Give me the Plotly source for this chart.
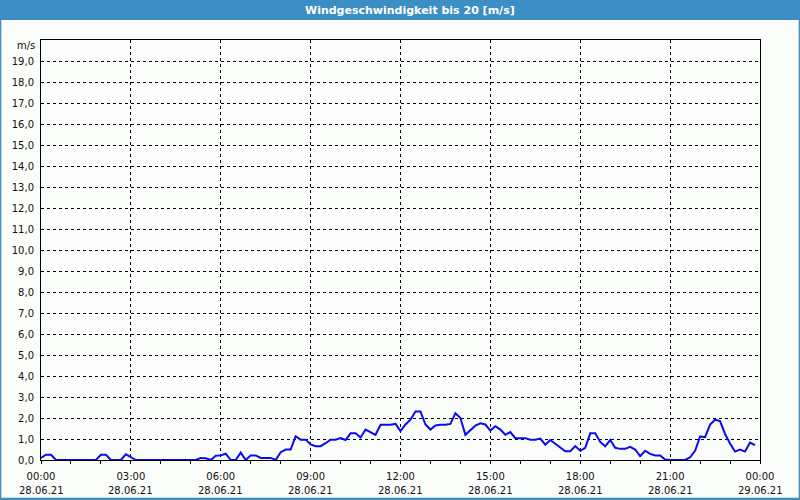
import pandas as pd
import plotly.graph_objects as go

# ---- data ----
speed = [
    0.1, 0.25, 0.25, 0, 0, 0, 0, 0, 0, 0,
    0, 0, 0.25, 0.25, 0, 0, 0, 0.27, 0.12, 0,
    0, 0, 0, 0, 0, 0, 0, 0, 0, 0,
    0, 0, 0.1, 0.08, 0, 0.2, 0.22, 0.3, 0, 0,
    0.35, 0, 0.22, 0.22, 0.1, 0.1, 0.1, 0, 0.37, 0.5,
    0.5, 1.13, 0.97, 0.97, 0.74, 0.66, 0.66, 0.8, 0.97, 0.97,
    1.04, 0.95, 1.27, 1.27, 1.07, 1.45, 1.33, 1.2, 1.68, 1.68,
    1.68, 1.72, 1.38, 1.69, 1.92, 2.31, 2.31, 1.69, 1.45, 1.64,
    1.68, 1.68, 1.72, 2.23, 2.0, 1.2, 1.43, 1.64, 1.75, 1.69,
    1.4, 1.61, 1.45, 1.2, 1.33, 1.04, 1.04, 1.04, 0.97, 0.97,
    1.02, 0.73, 0.95, 0.76, 0.59, 0.42, 0.42, 0.66, 0.44, 0.58,
    1.27, 1.27, 0.86, 0.65, 0.95, 0.58, 0.53, 0.53, 0.63, 0.5,
    0.18, 0.44, 0.29, 0.22, 0.22, 0.02, 0, 0, 0, 0,
    0.13, 0.44, 1.12, 1.09, 1.69, 1.92, 1.85, 1.24, 0.79, 0.4,
    0.5, 0.4, 0.83, 0.71,
]
times = pd.date_range("2021-06-28 00:00", periods=len(speed), freq="10min")

x_tick_vals = ["2021-06-28 00:00", "2021-06-28 03:00", "2021-06-28 06:00",
               "2021-06-28 09:00", "2021-06-28 12:00", "2021-06-28 15:00",
               "2021-06-28 18:00", "2021-06-28 21:00", "2021-06-29 00:00"]
x_tick_times = ["00:00", "03:00", "06:00", "09:00", "12:00", "15:00",
                "18:00", "21:00", "00:00"]
x_tick_dates = ["28.06.21", "28.06.21", "28.06.21", "28.06.21", "28.06.21",
                "28.06.21", "28.06.21", "28.06.21", "29.06.21"]
y_tick_vals = list(range(0, 20))
y_tick_text = ["0,0", "1,0", "2,0", "3,0", "4,0", "5,0", "6,0", "7,0", "8,0", "9,0",
               "10,0", "11,0", "12,0", "13,0", "14,0", "15,0", "16,0", "17,0",
               "18,0", "19,0"]
title_text = "Windgeschwindigkeit bis 20 [m/s]"
unit_text = "m/s"

# ---- layout geometry (pixels) ----
W, H = 800, 500
L, R, T, B = 41, 760, 40, 460
PW, PH = R - L, B - T


def xp(px):
    return (px - L) / PW


def yp(py):
    return (B - py) / PH


BLUE = "#3C8FC5"
BG = "#FBFDFA"
FONT = "DejaVu Sans"
TXT = "#111111"

fig = go.Figure()
fig.add_trace(go.Scatter(
    x=times, y=speed, mode="lines",
    line=dict(color="#0A0AF0", width=2),
    hoverinfo="skip", showlegend=False,
))

shapes = [
    # title bar
    dict(type="rect", xref="paper", yref="paper", x0=xp(0), x1=xp(W), y0=yp(20), y1=yp(0),
         fillcolor=BLUE, line=dict(width=0), layer="above"),
    # left border
    dict(type="rect", xref="paper", yref="paper", x0=xp(0), x1=xp(1.3), y0=yp(H), y1=yp(20),
         fillcolor=BLUE, line=dict(width=0), layer="above"),
    # right border
    dict(type="rect", xref="paper", yref="paper", x0=xp(798.7), x1=xp(W), y0=yp(H), y1=yp(20),
         fillcolor=BLUE, line=dict(width=0), layer="above"),
    # bottom border
    dict(type="rect", xref="paper", yref="paper", x0=xp(0), x1=xp(W), y0=yp(H), y1=yp(497.7),
         fillcolor=BLUE, line=dict(width=0), layer="above"),
]

annotations = [
    dict(text=f"<b>{title_text}</b>", xref="paper", yref="paper", x=xp(410), y=yp(10.5),
         xanchor="center", yanchor="middle", showarrow=False,
         font=dict(family=FONT, size=11, color="white")),
    dict(text=unit_text, xref="paper", yref="paper", x=xp(37), y=yp(46),
         xanchor="right", yanchor="middle", showarrow=False,
         font=dict(family=FONT, size=10, color=TXT)),
]
for tv, d in zip(x_tick_vals, x_tick_dates):
    annotations.append(dict(text=d, x=tv, xref="x", yref="paper", y=yp(490),
                            xanchor="center", yanchor="middle", showarrow=False,
                            font=dict(family=FONT, size=10, color=TXT)))

fig.update_layout(
    width=W, height=H,
    margin=dict(l=L, r=W - R, t=T, b=H - B, pad=0),
    paper_bgcolor=BG, plot_bgcolor=BG,
    shapes=shapes, annotations=annotations,
    xaxis=dict(
        type="date",
        range=["2021-06-28 00:00", "2021-06-29 00:00"],
        tickmode="array", tickvals=x_tick_vals, ticktext=x_tick_times,
        ticks="outside", ticklen=3, tickcolor="black", tickwidth=1,
        ticklabelstandoff=4,
        showgrid=True, gridcolor="black", gridwidth=1, griddash="3px,3px",
        showline=True, linecolor="black", linewidth=1, mirror=True,
        zeroline=False,
        tickfont=dict(family=FONT, size=10, color=TXT),
        minor=dict(dtick=3600000, ticks="outside", ticklen=3, tickcolor="black",
                   showgrid=False),
    ),
    yaxis=dict(
        range=[0, 20],
        tickmode="array", tickvals=y_tick_vals, ticktext=y_tick_text,
        ticks="", ticklabelstandoff=4,
        showgrid=True, gridcolor="black", gridwidth=1, griddash="3px,3px",
        showline=True, linecolor="black", linewidth=1, mirror=True,
        zeroline=False,
        tickfont=dict(family=FONT, size=10, color=TXT),
    ),
)

fig.write_html("out.html")
